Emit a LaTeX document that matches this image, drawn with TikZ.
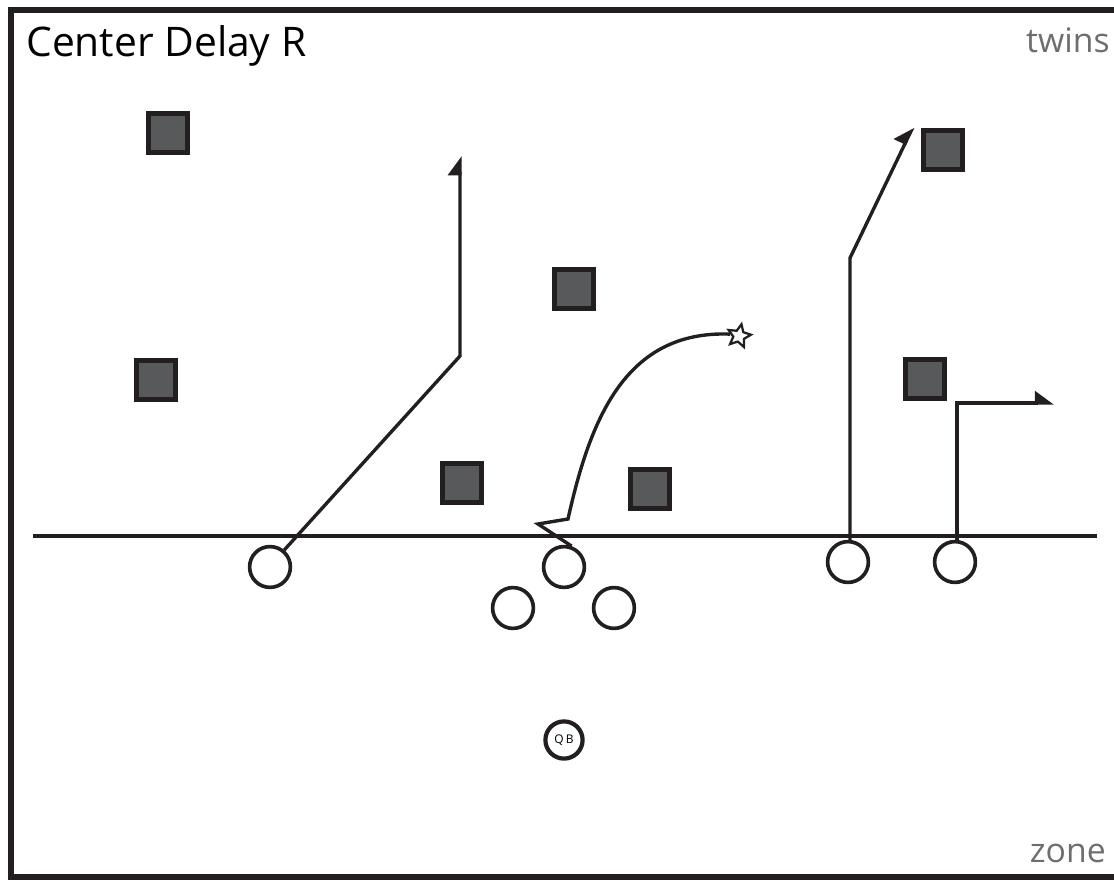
\documentclass[tikz,border=0pt]{standalone}
\usepackage{fontspec}
\setmainfont{Open Sans}
\usetikzlibrary{arrows.meta,shapes.geometric}
\definecolor{ink}{RGB}{35,31,32}
\definecolor{defgray}{RGB}{88,89,91}
\definecolor{tag}{RGB}{110,110,112}

\begin{document}
\begin{tikzpicture}[>={Triangle[harpoon,length=12pt,width=17pt]},x=0.025cm,y=-0.025cm,
	def/.style={draw=ink,fill=defgray,line width=3.4pt,minimum size=0.96cm,inner sep=0pt},
	off/.style={circle,draw=ink,fill=white,line width=2.6pt,minimum size=1.02cm,inner sep=0pt},
	route/.style={draw=ink,line width=2.4pt}]
		\useasboundingbox (0,0) rectangle (1114,880);
		% frame, open on the right
		\draw[ink,line width=3.6pt] (1114,10) -- (11,10) -- (11,877) -- (1114,877);
		\node[anchor=west,inner sep=0pt] (title) at (26,46) {\fontsize{29}{34}\selectfont Center Delay R};
		\node[anchor=east,inner sep=0pt,text=tag] (fm) at (1110,40) {\fontsize{24}{28}\selectfont twins};
		\node[anchor=east,inner sep=0pt,text=tag] (cov) at (1106,853) {\fontsize{24}{28}\selectfont zone};
		% line of scrimmage
		\draw[ink,line width=2.6pt] (33,536) -- (1097,536);
		% defense
		\node[def] (d1) at (168,133) {};
		\node[def] (d2) at (156,380) {};
		\node[def] (d3) at (574,289) {};
		\node[def] (d4) at (462,483) {};
		\node[def] (d5) at (650,489) {};
		\node[def] (d6) at (943,150) {};
		\node[def] (d7) at (925,379) {};
		% offense
		\node[off] (x) at (270,567) {};
		\node[off] (c) at (564,567) {};
		\node[off] (lg) at (513,608) {};
		\node[off] (rg) at (614,608) {};
		\node[off] (h) at (848,562) {};
		\node[off] (z) at (955,562) {};
		\node[off,line width=3pt,minimum size=0.93cm] (qb) at (564,740) {\fontsize{8.5}{9}\selectfont Q\,B};
		\node[star,star points=5,star point ratio=2.1,draw=ink,line width=1.6pt,minimum size=0.6cm,inner sep=0pt,rotate=-12] (spot) at (739,336) {};
		% routes
		\draw[route,->] (x.50) -- (460,356) -- (460,156);
		\draw[route] (c.70) -- (538,524) -- (568,519) .. controls (590,420) and (625,330) .. (spot.west);
		\draw[route,->] (h.north) ++(2,0) -- (850,258) -- (913,127);
		\draw[route,->] (z.north) ++(2,0) -- (957,403) -- (1054,403);
		\end{tikzpicture}
\end{document}
